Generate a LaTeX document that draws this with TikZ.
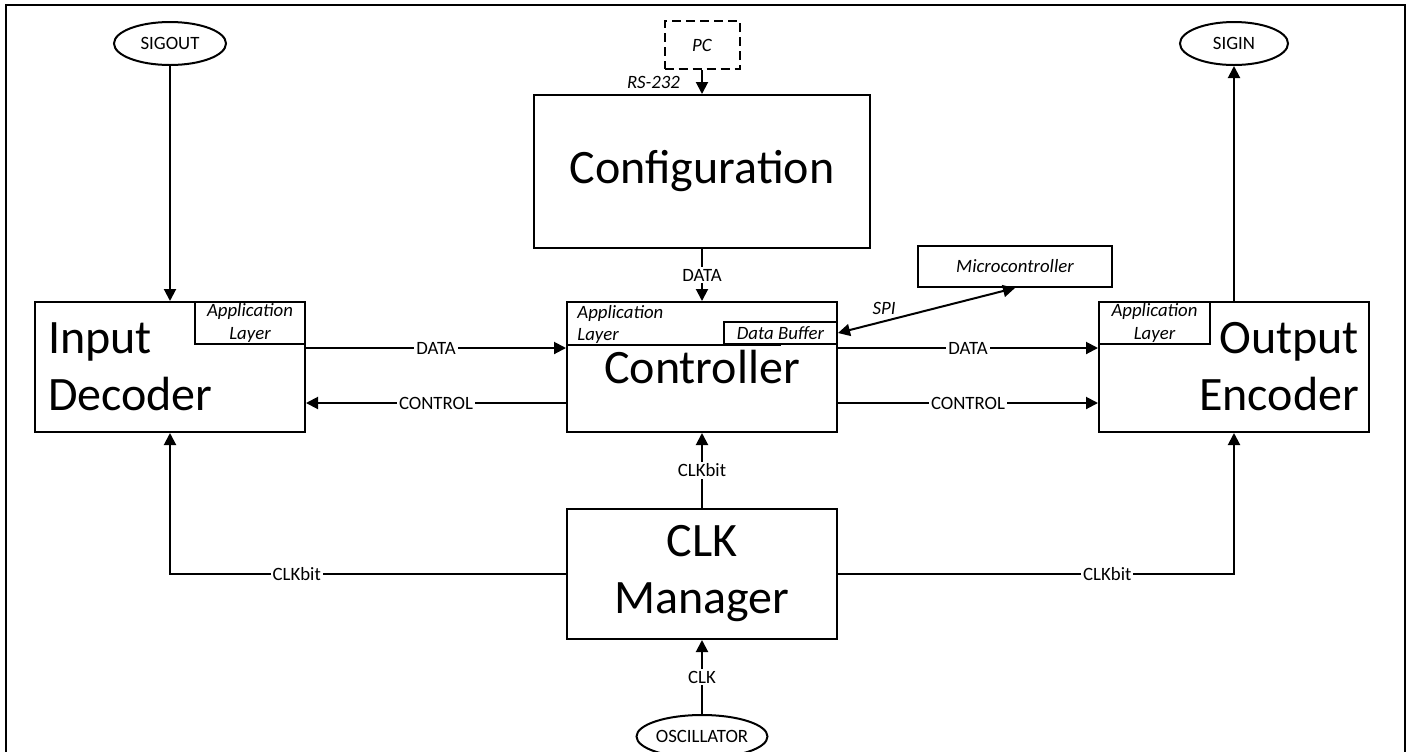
\documentclass[tikz,border=0pt]{standalone}
\usepackage{fontspec}
\setmainfont{Carlito}
\usetikzlibrary{arrows.meta,positioning,shapes.geometric}

\newcommand{\bigtxt}{\fontsize{24}{28.5}\selectfont}
\newcommand{\smalltxt}{\fontsize{9.4}{11.2}\selectfont}

\begin{document}
\begin{tikzpicture}[
  x=0.5pt, y=-0.5pt,
  font=\smalltxt,
  blk/.style={draw, line width=1pt, minimum width=135pt, minimum height=65pt,
    font=\bigtxt, inner sep=0pt},
  sub/.style={draw, line width=1pt, font=\smalltxt\itshape, align=center, inner sep=0pt},
  term/.style={ellipse, draw, line width=1pt, inner sep=0pt, minimum height=21.5pt},
  lbl/.style={fill=white, inner sep=1pt},
  arr/.style={-{Triangle[length=6pt,width=6pt]}, line width=1pt},
  dbl/.style={{Triangle[length=6pt,width=6pt]}-{Triangle[length=6pt,width=6pt]}, line width=1pt},
  frame/.style={line width=1.3pt}
]
  \useasboundingbox (0,0) rectangle (1410,751);
  \draw[frame] (6,770) |- (1405,5) -- (1405,770);

  % main blocks
  \node[blk] (ctrl) at (702,367) {Controller};
  \node[blk, text width=122pt, align=left, inner xsep=6.5pt, left=130pt of ctrl] (dec) {Input\\Decoder};
  \node[blk, text width=125pt, align=right, inner xsep=5pt, right=130pt of ctrl] (enc) {Output\\Encoder};
  \node[blk, minimum width=168pt, minimum height=76.5pt, above=26pt of ctrl] (conf) {Configuration};
  \node[blk, align=center, below=37.5pt of ctrl] (clk) {CLK\\Manager};

  % application layers
  \node[sub, minimum width=55pt, minimum height=21pt, anchor=north east] (decapp) at (dec.north east) {Application\\Layer};
  \node[sub, minimum width=55.5pt, minimum height=21pt, anchor=north west] (encapp) at (enc.north west) {Application\\Layer};
  \node[sub, minimum width=56.5pt, minimum height=11pt, anchor=north east] (buf) at ([yshift=-10pt]ctrl.north east) {Data Buffer};
  \node[font=\smalltxt\itshape, align=left, inner xsep=5.5pt, inner ysep=2pt, anchor=north west] (ctrlapp) at (ctrl.north west) {Application\\Layer};
  \draw[line width=1pt] (ctrl.west |- buf.south) -- (buf.south);

  % terminals
  \node[term, minimum width=56pt, above=117.5pt of dec] (sigout) {SIGOUT};
  \node[term, minimum width=54pt, above=117.5pt of enc] (sigin) {SIGIN};
  \node[term, minimum width=65.5pt, below=37pt of clk] (osc) {OSCILLATOR};
  \node[draw, dash pattern=on 4.5pt off 2.5pt, line width=1pt, font=\smalltxt\itshape,
    minimum width=37.5pt, minimum height=24pt, above=12pt of conf] (pc) {PC};
  \node[draw, line width=1pt, font=\smalltxt\itshape, minimum width=97pt,
    minimum height=20.5pt] (mcu) at (1015,266.5) {Microcontroller};

  % connectors
  \draw[arr] (sigout) -- (dec);
  \draw[arr] (pc) -- (conf)
    node[midway, left=9.5pt, inner sep=1pt, font=\smalltxt\itshape] {RS-232};
  \draw[arr] (conf) -- node[lbl] {DATA} (ctrl);
  \draw[arr] ([yshift=9.5pt]dec.east) -- node[lbl] {DATA} ([yshift=9.5pt]ctrl.west);
  \draw[arr] ([yshift=-18pt]ctrl.west) -- node[lbl] {CONTROL} ([yshift=-18pt]dec.east);
  \draw[arr] ([yshift=9.5pt]ctrl.east) -- node[lbl] {DATA} ([yshift=9.5pt]enc.west);
  \draw[arr] ([yshift=-18pt]ctrl.east) -- node[lbl] {CONTROL} ([yshift=-18pt]enc.west);
  \draw[arr] (enc) -- (sigin);
  \draw[dbl] (buf.east) -- node[pos=0.26, above=2pt, inner sep=1pt, font=\smalltxt\itshape] {SPI} (mcu.south);
  \draw[arr] (clk) -- node[lbl] {CLKbit} (ctrl);
  \draw[arr] (clk.west) -| node[lbl, pos=0.34] {CLKbit} (dec.south);
  \draw[arr] (clk.east) -| node[lbl, pos=0.34] {CLKbit} (enc.south);
  \draw[arr] (osc) -- node[lbl] {CLK} (clk);
\end{tikzpicture}
\end{document}
